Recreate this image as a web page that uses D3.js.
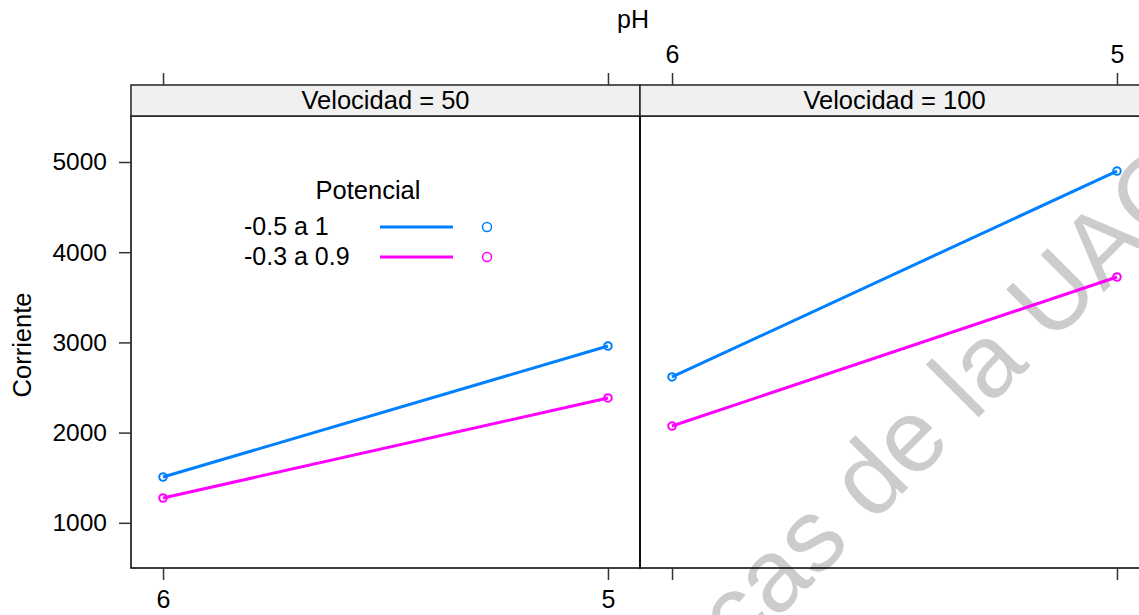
<!DOCTYPE html>
<html><head><meta charset="utf-8">
<script src="https://cdn.jsdelivr.net/npm/d3@7"></script>
<style>body{margin:0;background:#fff}svg{display:block;font-family:"Liberation Sans",Arial,sans-serif}</style>
</head><body><svg id="c" width="1139" height="615"></svg>
<script>
const phLevels = [6, 5];
const panels = ["Velocidad = 50", "Velocidad = 100"];
const seriesNames = ["-0.5 a 1", "-0.3 a 0.9"];
const seriesColors = ["#0080ff", "#ff00ff"];
const blueValues = [[1508, 2960], [2617, 4900]];
const magentaValues = [[1275, 2384], [2073, 3725]];
const yTicks = [1000, 2000, 3000, 4000, 5000];
const allValues = [blueValues, magentaValues];

const svg = d3.select("#c");
const FS = 25;
const panelW = 509, panelTop = 116, panelBot = 568, stripTop = 85;
const panelX = [131, 640];

const y = d3.scaleLinear().domain([499, 5510]).range([panelBot, panelTop]);

// watermark
svg.append("text").attr("transform","translate(739,657) rotate(-45)")
  .attr("font-size",103).attr("fill","#cccccc").text("cas de la UACh");

panels.forEach((p, i) => {
  const x0 = panelX[i];
  const x = d3.scaleLinear().domain([6.072, 4.928]).range([x0, x0 + panelW]);
  svg.append("rect").attr("x", x0).attr("y", panelTop).attr("width", panelW).attr("height", panelBot - panelTop)
    .attr("fill","none").attr("stroke","#000").attr("stroke-width",1.5);
  svg.append("rect").attr("x", x0).attr("y", stripTop).attr("width", panelW).attr("height", panelTop - stripTop)
    .attr("fill","#f0f0f0").attr("stroke","#222").attr("stroke-width",1.5);
  svg.append("text").attr("x", x0 + panelW/2).attr("y", 109).attr("text-anchor","middle")
    .attr("font-size",FS+0.5).attr("fill","#000").text(p);
  const top = svg.append("g").attr("transform",`translate(0,${stripTop})`)
    .call(d3.axisTop(x).tickValues(phLevels).tickSize(12).tickPadding(10).tickFormat(i===1?d3.format("d"):()=>""));
  const bot = svg.append("g").attr("transform",`translate(0,${panelBot})`)
    .call(d3.axisBottom(x).tickValues(phLevels).tickSize(12).tickPadding(10).tickFormat(i===0?d3.format("d"):()=>""));
  [top, bot].forEach(g => {
    g.select(".domain").remove();
    g.selectAll("line").attr("stroke","#333").attr("stroke-width",1.5);
    g.selectAll("text").attr("font-size",FS).attr("fill","#000").attr("font-family","Liberation Sans, Arial, sans-serif");
  });
  allValues.forEach((vals, s) => {
    const pts = phLevels.map((ph, k) => [x(ph), y(vals[i][k])]);
    svg.append("path").attr("d", d3.line()(pts)).attr("fill","none")
      .attr("stroke", seriesColors[s]).attr("stroke-width",3);
    svg.selectAll(null).data(pts).enter().append("circle")
      .attr("cx", d => d[0]).attr("cy", d => d[1]).attr("r",3.8)
      .attr("fill","none").attr("stroke", seriesColors[s]).attr("stroke-width",2);
  });
});

const ya = svg.append("g").attr("transform",`translate(${panelX[0]},0)`)
  .call(d3.axisLeft(y).tickValues(yTicks).tickSize(12).tickPadding(12).tickFormat(d3.format("d")));
ya.select(".domain").remove();
ya.selectAll("line").attr("stroke","#333").attr("stroke-width",1.5);
ya.selectAll("text").attr("font-size",FS-0.5).attr("fill","#000").attr("font-family","Liberation Sans, Arial, sans-serif");

svg.append("text").attr("x",633).attr("y",28).attr("text-anchor","middle").attr("font-size",FS).text("pH");
svg.append("text").attr("transform","translate(31,345) rotate(-90)").attr("text-anchor","middle").attr("font-size",FS+0.5).text("Corriente");

svg.append("text").attr("x",368).attr("y",199).attr("text-anchor","middle").attr("font-size",FS+0.5).text("Potencial");
seriesNames.forEach((n, s) => {
  const yy = 227 + s*30;
  svg.append("text").attr("x",244).attr("y",yy+8).attr("font-size",FS).text(n);
  svg.append("line").attr("x1",380).attr("x2",453).attr("y1",yy).attr("y2",yy)
    .attr("stroke",seriesColors[s]).attr("stroke-width",3);
  svg.append("circle").attr("cx",487).attr("cy",yy).attr("r",4.5).attr("fill","none")
    .attr("stroke",seriesColors[s]).attr("stroke-width",1.5);
});
</script></body></html>
